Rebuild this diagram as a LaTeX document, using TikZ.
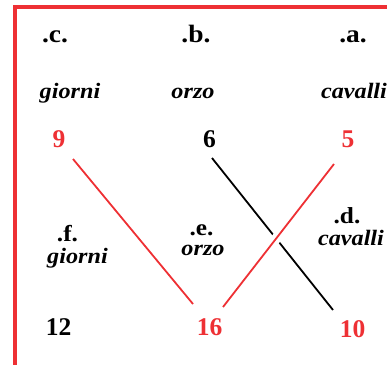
\documentclass[tikz,border=0pt]{standalone}
\usepackage{fontspec}
\setmainfont{Liberation Serif}
\newfontfamily\hdrfont[FakeStretch=1.1]{Liberation Serif}
\newfontfamily\wrdfont[FakeStretch=1.1]{Liberation Serif}
\definecolor{myred}{RGB}{238,48,52}
\begin{document}
\begin{tikzpicture}[x=1pt,y=1pt,
  hdr/.style={font=\hdrfont\fontsize{25}{25}\selectfont\bfseries, inner sep=0pt, anchor=base},
  mhdr/.style={font=\hdrfont\fontsize{23}{23}\selectfont\bfseries, inner sep=0pt, anchor=base},
  wrd/.style={font=\wrdfont\fontsize{22}{22}\selectfont\bfseries\itshape, inner sep=0pt, anchor=base, text height=12pt},
  num/.style={font=\fontsize{25.5}{25.5}\selectfont\bfseries, inner sep=0pt, anchor=base},
  rnum/.style={num, text=myred},
  link/.style={line width=1.8pt},
  rlink/.style={link, draw=myred}]
\useasboundingbox (0,0) rectangle (387,364);
\draw[myred, line width=3.8pt] (15,-5) -- (15,357.3) -- (392,357.3);
% top row
\node[hdr] (hc) at (55,321) {.c.};
\node[hdr] (hb) at (196,321) {.b.};
\node[hdr] (ha) at (353,321) {.a.};
\node[wrd] (wc) at (70,265) {giorni};
\node[wrd] (wb) at (193,265) {orzo};
\node[wrd] (wa) at (354,265) {cavalli};
\node[rnum] (n9) at (59,216) {9};
\node[num] (n6) at (209.5,216) {6};
\node[rnum] (n5) at (348,216) {5};
% bottom row
\node[mhdr] (hf) at (67.5,123) {.f.};
\node[wrd] (wf) at (77.5,101) {giorni};
\node[mhdr] (he) at (201.5,129) {.e.};
\node[wrd] (we) at (203,109) {orzo};
\node[mhdr] (hd) at (347,141) {.d.};
\node[wrd] (wd) at (351,119) {cavalli};
\node[num] (n12) at (58.5,29) {12};
\node[rnum] (n16) at (209.5,29) {16};
\node[rnum] (n10) at (352.5,27) {10};
% connectors
\draw[link] ([shift={(2.5,-10)}]n6.base) -- ([shift={(-19.5,27)}]n10.base);
\draw[white, line width=10pt] ([shift={(-14,-16)}]n5.base) -- ([shift={(13.5,28)}]n16.base);
\draw[rlink] ([shift={(-14,-16)}]n5.base) -- ([shift={(13.5,28)}]n16.base);
\draw[rlink] ([shift={(14,-11)}]n9.base) -- ([shift={(-16.5,31)}]n16.base);
\end{tikzpicture}
\end{document}
